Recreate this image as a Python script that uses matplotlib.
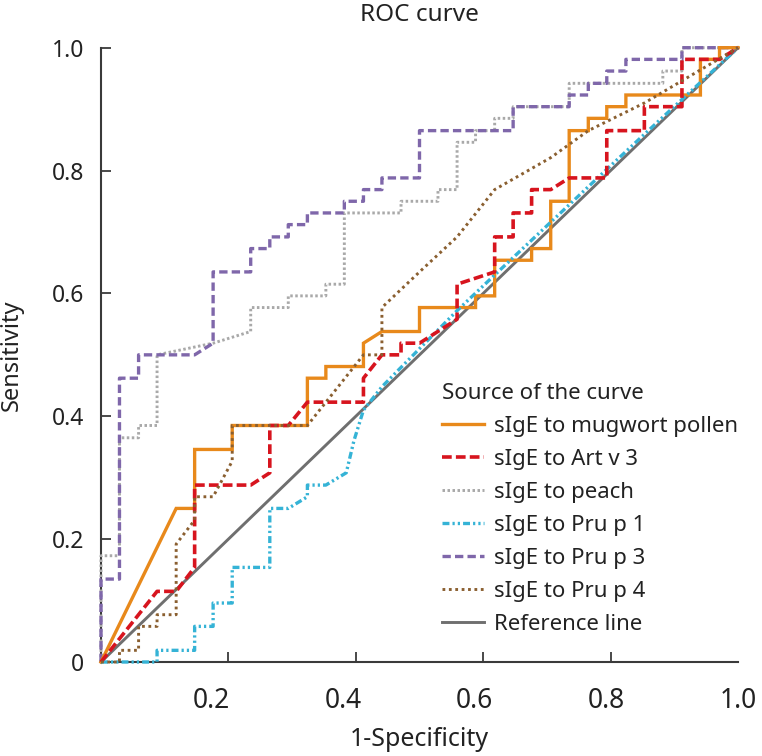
import matplotlib
matplotlib.use("Agg")
import matplotlib.pyplot as plt

plt.rcParams['font.family'] = ['Noto Sans', 'DejaVu Sans']
plt.rcParams['lines.scale_dashes'] = False

# ROC points (x = 1-specificity, y = sensitivity)
mugwort_x = [0, 0.118, 0.147, 0.147, 0.206, 0.206, 0.324, 0.324, 0.353, 0.353, 0.412, 0.412, 0.441, 0.5,
             0.5, 0.588, 0.588, 0.618, 0.618, 0.676, 0.676, 0.706, 0.706, 0.735, 0.735, 0.765, 0.765,
             0.794, 0.794, 0.824, 0.824, 0.941, 0.941, 0.971, 0.971, 1.0]
mugwort_y = [0, 0.25, 0.25, 0.346, 0.346, 0.385, 0.385, 0.462, 0.462, 0.481, 0.481, 0.519, 0.538, 0.538,
             0.577, 0.577, 0.596, 0.596, 0.654, 0.654, 0.673, 0.673, 0.75, 0.75, 0.865, 0.865, 0.885,
             0.885, 0.904, 0.904, 0.923, 0.923, 0.981, 0.981, 1.0, 1.0]

artv3_x = [0, 0.088, 0.118, 0.147, 0.147, 0.235, 0.265, 0.265, 0.294, 0.324, 0.412, 0.412, 0.441, 0.471,
           0.471, 0.5, 0.559, 0.559, 0.618, 0.618, 0.647, 0.647, 0.676, 0.676, 0.706, 0.735, 0.794,
           0.794, 0.853, 0.853, 0.912, 0.912, 0.971, 1.0]
artv3_y = [0, 0.115, 0.115, 0.154, 0.288, 0.288, 0.308, 0.385, 0.385, 0.423, 0.423, 0.462, 0.5, 0.5,
           0.519, 0.519, 0.558, 0.615, 0.635, 0.692, 0.692, 0.731, 0.731, 0.769, 0.769, 0.788, 0.788,
           0.865, 0.865, 0.904, 0.904, 0.981, 0.981, 1.0]

peach_x = [0, 0, 0.029, 0.029, 0.059, 0.059, 0.088, 0.088, 0.176, 0.235, 0.235, 0.294, 0.294, 0.353,
           0.353, 0.382, 0.382, 0.471, 0.471, 0.529, 0.529, 0.559, 0.559, 0.588, 0.588, 0.618, 0.618,
           0.647, 0.647, 0.735, 0.735, 0.882, 0.882, 0.912, 0.912, 1.0]
peach_y = [0, 0.173, 0.173, 0.365, 0.365, 0.385, 0.385, 0.5, 0.519, 0.538, 0.577, 0.577, 0.596, 0.596,
           0.615, 0.615, 0.731, 0.731, 0.75, 0.75, 0.769, 0.769, 0.846, 0.846, 0.865, 0.865, 0.885,
           0.885, 0.904, 0.904, 0.942, 0.942, 0.962, 0.962, 1.0, 1.0]

prup1_x = [0, 0.088, 0.088, 0.147, 0.147, 0.176, 0.176, 0.206, 0.206, 0.265, 0.265, 0.294, 0.324,
           0.324, 0.353, 0.385, 0.397, 0.412, 0.441, 0.5, 0.559, 0.618, 0.706, 0.794, 0.882, 1.0]
prup1_y = [0, 0, 0.019, 0.019, 0.058, 0.058, 0.096, 0.096, 0.154, 0.154, 0.25, 0.25, 0.269,
           0.288, 0.288, 0.308, 0.36, 0.41, 0.448, 0.51, 0.572, 0.63, 0.716, 0.802, 0.887, 1.0]

prup3_x = [0, 0, 0.029, 0.029, 0.059, 0.059, 0.147, 0.176, 0.176, 0.235, 0.235, 0.265, 0.265, 0.294,
           0.294, 0.324, 0.324, 0.382, 0.382, 0.412, 0.412, 0.441, 0.441, 0.5, 0.5, 0.647, 0.647,
           0.735, 0.735, 0.765, 0.765, 0.794, 0.794, 0.824, 0.824, 0.912, 0.912, 1.0]
prup3_y = [0, 0.135, 0.135, 0.462, 0.462, 0.5, 0.5, 0.519, 0.635, 0.635, 0.673, 0.673, 0.692, 0.692,
           0.712, 0.712, 0.731, 0.731, 0.75, 0.75, 0.769, 0.769, 0.788, 0.788, 0.865, 0.865, 0.904,
           0.904, 0.923, 0.923, 0.942, 0.942, 0.962, 0.962, 0.981, 0.981, 1.0, 1.0]

prup4_x = [0, 0.029, 0.029, 0.059, 0.059, 0.088, 0.088, 0.118, 0.118, 0.147, 0.147, 0.176, 0.206,
           0.206, 0.324, 0.412, 0.441, 0.441, 0.5, 0.559, 0.618, 0.706, 0.765, 0.853, 1.0]
prup4_y = [0, 0, 0.019, 0.019, 0.058, 0.058, 0.077, 0.077, 0.192, 0.231, 0.269, 0.269, 0.327,
           0.385, 0.385, 0.5, 0.5, 0.577, 0.635, 0.692, 0.769, 0.821, 0.865, 0.91, 1.0]

ref_x = [0, 1]
ref_y = [0, 1]

labels = ["sIgE to mugwort pollen", "sIgE to Art v 3", "sIgE to peach", "sIgE to Pru p 1",
          "sIgE to Pru p 3", "sIgE to Pru p 4", "Reference line"]

x_ticks = [0.2, 0.4, 0.6, 0.8, 1.0]
x_tick_labels = ["0.2", "0.4", "0.6", "0.8", "1.0"]
y_ticks = [0, 0.2, 0.4, 0.6, 0.8, 1.0]
y_tick_labels = ["0", "0.2", "0.4", "0.6", "0.8", "1.0"]

fig = plt.figure(figsize=(7.62, 7.56), dpi=100)
ax = fig.add_axes([101 / 762, 1 - 662 / 756, 637 / 762, 614.3 / 756])

styles = [
    dict(color="#E8891B", lw=2.4, ls="-"),
    dict(color="#D7141E", lw=2.6, ls=(0, (7, 3))),
    dict(color="#A9A9A9", lw=2.1, ls=(0, (1.8, 1.8))),
    dict(color="#35B3D6", lw=2.4, ls=(0, (5, 2.2, 1.6, 2.2, 1.6, 2.2))),
    dict(color="#7F67AA", lw=2.4, ls=(0, (6, 3))),
    dict(color="#8A5F30", lw=2.1, ls=(0, (2, 2.6))),
    dict(color="#6F6F6F", lw=2.1, ls="-"),
]
series = [(mugwort_x, mugwort_y), (artv3_x, artv3_y), (peach_x, peach_y), (prup1_x, prup1_y),
          (prup3_x, prup3_y), (prup4_x, prup4_y), (ref_x, ref_y)]
zorders = [4, 5, 3, 4, 3, 5, 2]

for (xs, ys), st, lab, z in zip(series, styles, labels, zorders):
    ax.plot(xs, ys, label=lab, zorder=z, clip_on=False, solid_joinstyle="miter",
            dash_capstyle="butt", **st)

ax.set_xlim(0, 1)
ax.set_ylim(0, 1)

for s in ["top", "right"]:
    ax.spines[s].set_visible(False)
for s in ["left", "bottom"]:
    ax.spines[s].set_color("#3a3a3a")
    ax.spines[s].set_linewidth(1.5)

# y axis
ax.set_yticks(y_ticks)
ax.set_yticklabels(y_tick_labels, fontsize=16.5, color="#222222")
ax.tick_params(axis="y", direction="in", length=7, width=1.3, color="#3a3a3a", pad=12)

# x axis: tick marks as minor ticks, labels sit slightly left of them
ax.set_xticks(x_ticks, minor=True)
ax.set_xticks([1 - (1 - t) * 1.033 for t in x_ticks])
ax.set_xticklabels(x_tick_labels, fontsize=19, color="#222222")
ax.tick_params(axis="x", which="minor", direction="in", length=7, width=1.3, color="#3a3a3a")
ax.tick_params(axis="x", which="major", length=0, pad=18)

ax.set_title("ROC curve", fontsize=17.5, pad=19, color="#222222")
ax.set_xlabel("1-Specificity", fontsize=18, labelpad=9, color="#222222")
ax.set_ylabel("Sensitivity", fontsize=17, labelpad=20, color="#222222")

leg = ax.legend(loc="upper left", bbox_to_anchor=(0.536, 0.454), frameon=False,
                title="Source of the curve", title_fontsize=16, fontsize=16,
                handlelength=1.85, handletextpad=0.45, labelspacing=0.54,
                borderpad=0, borderaxespad=0, alignment="left")
for t in leg.get_texts():
    t.set_color("#222222")
leg.get_title().set_color("#222222")

fig.savefig("out.png", dpi=100)
